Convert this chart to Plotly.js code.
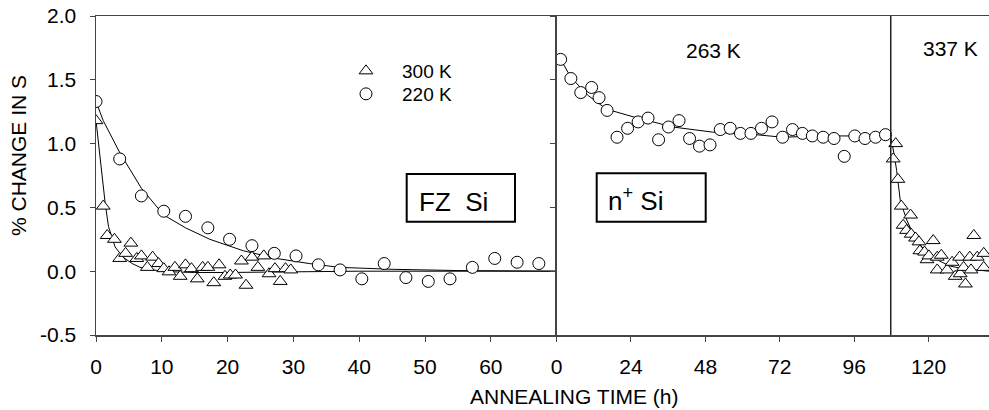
<!DOCTYPE html>
<html>
<head>
<meta charset="utf-8">
<script src="https://cdn.plot.ly/plotly-3.0.1.min.js"></script>
<style>html,body{margin:0;padding:0;background:#fff;}#chart{width:989px;height:410px;}</style>
</head>
<body>
<div id="chart"></div>
<script>
// FZ Si, 300 K (triangles)
const t300 = [0, 1.1, 1.7, 2.8, 3.6, 4.5, 5.3, 6.2, 6.9, 7.8, 8.6, 9.5, 10.3, 11.1, 12.0, 12.8, 13.6, 14.5, 15.4, 16.2, 17.0, 17.9, 18.7, 19.6, 20.4, 21.2, 22.1, 22.8, 23.7, 24.6, 25.5, 26.3, 27.2, 28.0, 28.8, 29.6];
const v300 = [1.18, 0.51, 0.28, 0.25, 0.10, 0.14, 0.22, 0.10, 0.12, 0.03, 0.11, 0.06, 0.02, -0.005, 0.03, -0.04, 0.05, 0.02, -0.06, 0.03, 0.03, -0.09, 0.05, -0.04, -0.03, -0.03, 0.08, -0.11, 0.11, 0.03, 0.12, -0.02, 0.02, -0.08, 0.02, 0.01];
const fitT300 = [0, 0.7, 1.4, 1.9, 2.9, 4.1, 5.5, 6.7, 8.5, 11.7, 15, 20, 25, 30, 40, 50, 60, 70];
const fitV300 = [1.18, 0.85, 0.53, 0.35, 0.19, 0.11, 0.06, 0.03, 0.01, -0.005, -0.01, -0.01, -0.01, -0.005, 0, 0, 0, 0];

// FZ Si, 220 K (circles)
const t220 = [0, 3.6, 6.9, 10.3, 13.6, 17.0, 20.3, 23.7, 27.1, 30.4, 33.8, 37.1, 40.4, 43.8, 47.1, 50.5, 53.8, 57.2, 60.6, 64.0, 67.3];
const v220 = [1.33, 0.88, 0.59, 0.47, 0.43, 0.34, 0.25, 0.20, 0.14, 0.12, 0.05, 0.01, -0.06, 0.06, -0.05, -0.08, -0.06, 0.03, 0.10, 0.07, 0.06];
const fitT220 = [0, 1.1, 3.6, 6.9, 10.3, 13.6, 17.3, 22.4, 27.4, 32.4, 37, 45, 55, 70];
const fitV220 = [1.33, 1.18, 0.93, 0.65, 0.44, 0.34, 0.25, 0.16, 0.10, 0.06, 0.03, 0.015, 0.005, 0];

// n+ Si, 263 K (circles)
const t263 = [1.3, 4.6, 7.8, 11.3, 13.7, 16.3, 19.5, 22.9, 26.3, 29.5, 32.9, 36.1, 39.5, 42.9, 46.1, 49.5, 52.8, 56.0, 59.3, 62.7, 66.1, 69.5, 72.9, 76.1, 79.3, 82.5, 86.0, 89.5, 92.8, 96.2, 99.5, 102.9, 106.1];
const v263 = [1.66, 1.51, 1.40, 1.44, 1.36, 1.26, 1.05, 1.12, 1.17, 1.20, 1.03, 1.13, 1.18, 1.04, 0.98, 0.99, 1.11, 1.12, 1.08, 1.08, 1.12, 1.17, 1.05, 1.11, 1.08, 1.06, 1.05, 1.04, 0.90, 1.06, 1.04, 1.05, 1.07];
const fitT263 = [1.3, 4.6, 10, 16.1, 24.7, 37.5, 50.3, 64.3, 72.9, 85, 95, 107.8];
const fitV263 = [1.66, 1.52, 1.38, 1.27, 1.21, 1.13, 1.09, 1.07, 1.05, 1.06, 1.06, 1.05];

// n+ Si, 337 K (triangles)
const t337 = [108.6, 109.4, 110.1, 111.2, 111.8, 112.9, 114.2, 114.4, 115.8, 116.9, 117.2, 118.7, 119.5, 120.1, 121.5, 122.8, 122.8, 124.1, 126.0, 127.6, 128.6, 130.0, 130.2, 131.3, 131.9, 133.3, 133.7, 134.6, 135.7, 137.8, 137.8];
const v337 = [0.88, 1.00, 0.72, 0.51, 0.36, 0.32, 0.44, 0.29, 0.26, 0.23, 0.16, 0.15, 0.09, 0.12, 0.24, 0.11, 0.01, 0.125, 0.01, 0.07, -0.04, 0.11, -0.02, 0.03, -0.10, 0.11, 0.01, 0.28, 0.11, 0.14, 0.03];
const fitT337 = [107.8, 108.8, 109.7, 110.4, 110.9, 112, 113, 114.5, 116.3, 118.5, 120.6, 123.5, 127, 131, 135, 139.5];
const fitV337 = [1.05, 0.93, 0.79, 0.66, 0.55, 0.47, 0.40, 0.32, 0.24, 0.17, 0.125, 0.08, 0.04, 0.02, 0.01, 0.0];

const leftTicks = [0, 10, 20, 30, 40, 50, 60];
const rightTicks = [0, 24, 48, 72, 96, 120];
const yTicks = [-0.5, 0.0, 0.5, 1.0, 1.5, 2.0];
const yTickText = ['-0.5', '0.0', '0.5', '1.0', '1.5', '2.0'];
const divider337 = 107.8;

const FONT = 'Arial, "Liberation Sans", sans-serif';
const FS = 21;
const AX = '#444';
const fitLine = {color: '#000', width: 1};
const tri = {symbol: 'triangle-up', size: 12, color: '#fff', line: {color: '#000', width: 1}};
const circ = {symbol: 'circle', size: 12, color: '#fff', line: {color: '#000', width: 1}};

const traces = [
  {x: fitT300, y: fitV300, xaxis: 'x', yaxis: 'y', mode: 'lines', line: fitLine, showlegend: false, hoverinfo: 'skip'},
  {x: fitT220, y: fitV220, xaxis: 'x', yaxis: 'y', mode: 'lines', line: fitLine, showlegend: false, hoverinfo: 'skip'},
  {x: t300, y: v300, xaxis: 'x', yaxis: 'y', mode: 'markers', marker: tri, name: '300 K', legend: 'legend'},
  {x: t220, y: v220, xaxis: 'x', yaxis: 'y', mode: 'markers', marker: circ, name: '220 K', legend: 'legend2'},
  {x: fitT263, y: fitV263, xaxis: 'x2', yaxis: 'y2', mode: 'lines', line: fitLine, showlegend: false, hoverinfo: 'skip'},
  {x: fitT337, y: fitV337, xaxis: 'x2', yaxis: 'y2', mode: 'lines', line: fitLine, showlegend: false, hoverinfo: 'skip'},
  {x: t263, y: v263, xaxis: 'x2', yaxis: 'y2', mode: 'markers', marker: circ, name: '263 K', showlegend: false},
  {x: t337, y: v337, xaxis: 'x2', yaxis: 'y2', mode: 'markers', marker: tri, name: '337 K', showlegend: false}
];

const split = (556.6 - 96) / 893;
const px = v => (v - 96) / 893;      // pixel x -> paper
const py = v => (335 - v) / 319;     // pixel y -> paper

const tickFont = {family: FONT, size: FS, color: '#000'};
const legFont = {family: FONT, size: 19, color: '#000'};
const layout = {
  width: 989, height: 410,
  margin: {l: 96, r: 0, t: 16, b: 75, pad: 0},
  paper_bgcolor: '#fff', plot_bgcolor: 'rgba(0,0,0,0)',
  font: {family: FONT, size: FS, color: '#000'},
  xaxis: {domain: [0, split], range: [0, 70], tickmode: 'array', tickvals: leftTicks, ticktext: leftTicks.map(String),
    showgrid: false, zeroline: false, showline: true, linecolor: AX, linewidth: 1.5, mirror: true,
    ticks: 'outside', ticklen: 5, tickcolor: AX, tickwidth: 1, tickfont: tickFont, ticklabelstandoff: 7},
  xaxis2: {domain: [split, 1], range: [0, 139.5], tickmode: 'array', tickvals: rightTicks, ticktext: rightTicks.map(String),
    showgrid: false, zeroline: false, showline: true, linecolor: AX, linewidth: 1.5, mirror: true,
    ticks: 'outside', ticklen: 5, tickcolor: AX, tickwidth: 1, tickfont: tickFont, ticklabelstandoff: 7},
  yaxis: {domain: [0, 1], range: [-0.5, 2.0], anchor: 'x', tickmode: 'array', tickvals: yTicks, ticktext: yTickText,
    showgrid: false, zeroline: false, showline: true, linecolor: AX, linewidth: 1.5,
    ticks: 'outside', ticklen: 5, tickcolor: AX, tickwidth: 1, tickfont: tickFont, ticklabelstandoff: 9},
  yaxis2: {domain: [0, 1], range: [-0.5, 2.0], anchor: 'x2', tickmode: 'array', tickvals: yTicks,
    showticklabels: false, showgrid: false, zeroline: false, showline: true, linecolor: AX, linewidth: 1.5,
    ticks: 'outside', ticklen: 5, tickcolor: AX, tickwidth: 1},
  showlegend: true,
  legend: {x: px(330), y: py(71), xanchor: 'left', yanchor: 'middle', bgcolor: 'rgba(0,0,0,0)',
    itemwidth: 62, font: legFont, tracegroupgap: 0},
  legend2: {x: px(330), y: py(94), xanchor: 'left', yanchor: 'middle', bgcolor: 'rgba(0,0,0,0)',
    itemwidth: 62, font: legFont, tracegroupgap: 0},
  shapes: [
    {type: 'line', xref: 'x2', yref: 'paper', x0: divider337, x1: divider337, y0: 0, y1: 1, line: {color: '#222', width: 1.5}},
    {type: 'rect', xref: 'paper', yref: 'paper', x0: px(406.7), x1: px(515), y0: py(221.7), y1: py(174), line: {color: '#000', width: 2}, fillcolor: '#fff', layer: 'above'},
    {type: 'rect', xref: 'paper', yref: 'paper', x0: px(596.7), x1: px(705.7), y0: py(221.7), y1: py(173.3), line: {color: '#000', width: 2}, fillcolor: '#fff', layer: 'above'}
  ],
  annotations: [
    {text: 'FZ\u00a0 Si', xref: 'paper', yref: 'paper', x: px(417), y: py(201.7), xanchor: 'left', yanchor: 'middle', showarrow: false, font: {family: FONT, size: 26, color: '#000'}},
    {text: 'n<sup>+</sup> Si', xref: 'paper', yref: 'paper', x: px(606), y: py(199), xanchor: 'left', yanchor: 'middle', showarrow: false, font: {family: FONT, size: 26, color: '#000'}},
    {text: '263 K', xref: 'paper', yref: 'paper', x: px(713), y: py(50), xanchor: 'center', yanchor: 'middle', showarrow: false, font: {family: FONT, size: FS, color: '#000'}},
    {text: '337 K', xref: 'paper', yref: 'paper', x: px(950), y: py(49), xanchor: 'center', yanchor: 'middle', showarrow: false, font: {family: FONT, size: FS, color: '#000'}},
    {text: 'ANNEALING TIME (h)', xref: 'paper', yref: 'paper', x: px(574), y: py(397), xanchor: 'center', yanchor: 'middle', showarrow: false, font: {family: FONT, size: FS, color: '#000'}},
    {text: '% CHANGE IN S', xref: 'paper', yref: 'paper', x: px(18), y: py(156), xanchor: 'center', yanchor: 'middle', textangle: -90, showarrow: false, font: {family: FONT, size: FS, color: '#000'}}
  ]
};

Plotly.newPlot('chart', traces, layout, {staticPlot: true, displayModeBar: false});
</script>
</body>
</html>
